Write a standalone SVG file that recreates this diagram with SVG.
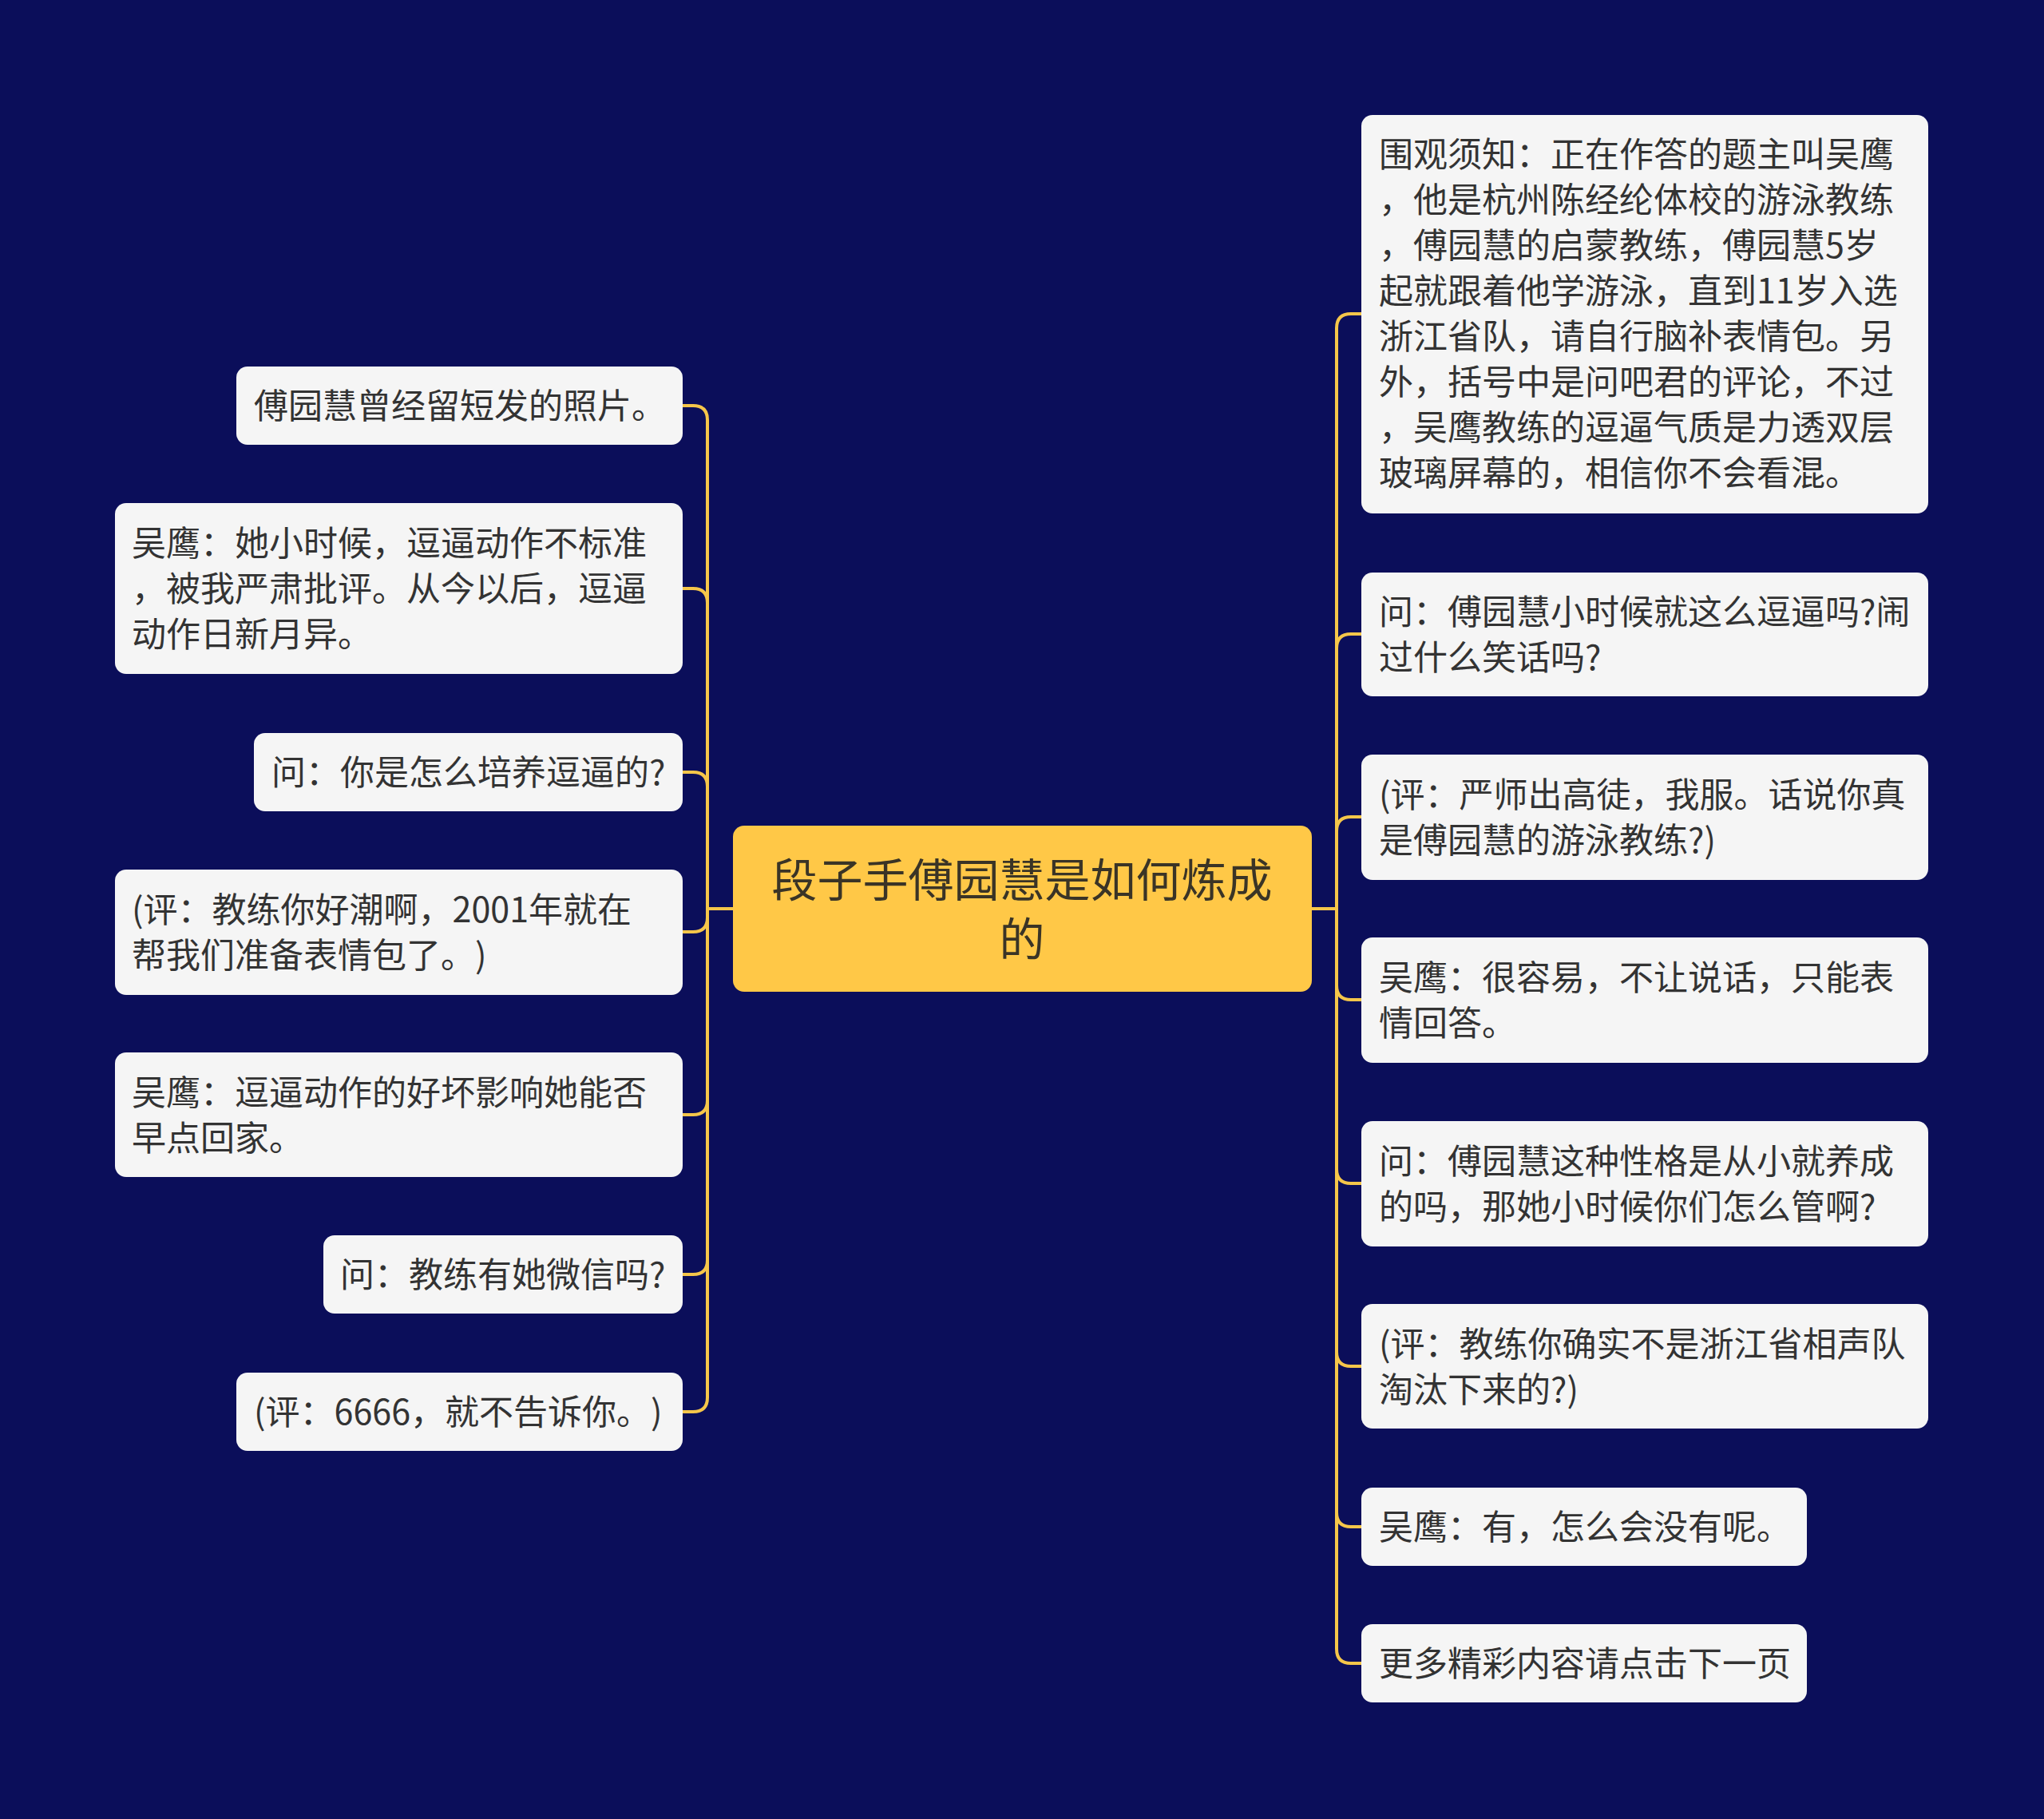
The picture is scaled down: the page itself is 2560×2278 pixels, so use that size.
<svg xmlns="http://www.w3.org/2000/svg" width="2560" height="2278" viewBox="0 0 2560 2278">
<style>
.bg{fill:#0b0e5a}
.node{fill:#f5f5f5}
.root{fill:#ffc847}
.t{font-family:"Noto Sans CJK SC","Noto Sans",sans-serif;font-size:43px;fill:#333333;dominant-baseline:central;text-spacing-trim:space-all}
.rt{font-family:"Noto Sans CJK SC","Noto Sans",sans-serif;font-size:57px;fill:#3a3426;dominant-baseline:central;text-anchor:middle}
.c{fill:none;stroke:#f5c64a;stroke-width:4;stroke-linecap:round;stroke-linejoin:round}
</style>
<rect class="bg" x="0" y="0" width="2560" height="2278"/>
<g id="connectors">
<path class="c" d="M918 1138 H886"/>
<path class="c" d="M1643 1138 H1674"/>
<path class="c" d="M886 1138 V526 Q886 508 868 508 H855"/>
<path class="c" d="M886 1138 V755 Q886 737 868 737 H855"/>
<path class="c" d="M886 1138 V985 Q886 967 868 967 H855"/>
<path class="c" d="M886 1138 V1149 Q886 1167 868 1167 H855"/>
<path class="c" d="M886 1138 V1378 Q886 1396 868 1396 H855"/>
<path class="c" d="M886 1138 V1578 Q886 1596 868 1596 H855"/>
<path class="c" d="M886 1138 V1750 Q886 1768 868 1768 H855"/>
<path class="c" d="M1674 1138 V411 Q1674 393 1692 393 H1705"/>
<path class="c" d="M1674 1138 V812 Q1674 794 1692 794 H1705"/>
<path class="c" d="M1674 1138 V1041 Q1674 1023 1692 1023 H1705"/>
<path class="c" d="M1674 1138 V1234 Q1674 1252 1692 1252 H1705"/>
<path class="c" d="M1674 1138 V1464 Q1674 1482 1692 1482 H1705"/>
<path class="c" d="M1674 1138 V1693 Q1674 1711 1692 1711 H1705"/>
<path class="c" d="M1674 1138 V1894 Q1674 1912 1692 1912 H1705"/>
<path class="c" d="M1674 1138 V2065 Q1674 2083 1692 2083 H1705"/>
</g>
<g id="root">
<rect class="root" x="918" y="1034" width="725" height="208" rx="14"/>
<text class="rt" x="1280" y="1098">段子手傅园慧是如何炼成</text>
<text class="rt" x="1280" y="1172">的</text>
</g>
<g id="L1">
<rect class="node" x="296" y="459" width="559" height="98" rx="14"/>
<text class="t" x="318" y="505">傅园慧曾经留短发的照片。</text>
</g>
<g id="L2">
<rect class="node" x="144" y="630" width="711" height="214" rx="14"/>
<text class="t" x="165" y="677">吴鹰：她小时候，逗逼动作不标准</text>
<text class="t" x="165" y="734">，被我严肃批评。从今以后，逗逼</text>
<text class="t" x="165" y="791">动作日新月异。</text>
</g>
<g id="L3">
<rect class="node" x="318" y="918" width="537" height="98" rx="14"/>
<text class="t" x="340" y="964">问：你是怎么培养逗逼的?</text>
</g>
<g id="L4">
<rect class="node" x="144" y="1089" width="711" height="157" rx="14"/>
<text class="t" x="165" y="1136">(评：教练你好潮啊，2001年就在</text>
<text class="t" x="165" y="1193">帮我们准备表情包了。)</text>
</g>
<g id="L5">
<rect class="node" x="144" y="1318" width="711" height="156" rx="14"/>
<text class="t" x="165" y="1365">吴鹰：逗逼动作的好坏影响她能否</text>
<text class="t" x="165" y="1422">早点回家。</text>
</g>
<g id="L6">
<rect class="node" x="405" y="1547" width="450" height="98" rx="14"/>
<text class="t" x="426" y="1593">问：教练有她微信吗?</text>
</g>
<g id="L7">
<rect class="node" x="296" y="1719" width="559" height="98" rx="14"/>
<text class="t" x="318" y="1765">(评：6666，就不告诉你。)</text>
</g>
<g id="R1">
<rect class="node" x="1705" y="144" width="710" height="499" rx="14"/>
<text class="t" x="1727" y="190">围观须知：正在作答的题主叫吴鹰</text>
<text class="t" x="1727" y="247">，他是杭州陈经纶体校的游泳教练</text>
<text class="t" x="1727" y="304">，傅园慧的启蒙教练，傅园慧5岁</text>
<text class="t" x="1727" y="361">起就跟着他学游泳，直到11岁入选</text>
<text class="t" x="1727" y="418">浙江省队，请自行脑补表情包。另</text>
<text class="t" x="1727" y="475">外，括号中是问吧君的评论，不过</text>
<text class="t" x="1727" y="532">，吴鹰教练的逗逼气质是力透双层</text>
<text class="t" x="1727" y="589">玻璃屏幕的，相信你不会看混。</text>
</g>
<g id="R2">
<rect class="node" x="1705" y="717" width="710" height="155" rx="14"/>
<text class="t" x="1727" y="763">问：傅园慧小时候就这么逗逼吗?闹</text>
<text class="t" x="1727" y="820">过什么笑话吗?</text>
</g>
<g id="R3">
<rect class="node" x="1705" y="945" width="710" height="157" rx="14"/>
<text class="t" x="1727" y="992">(评：严师出高徒，我服。话说你真</text>
<text class="t" x="1727" y="1049">是傅园慧的游泳教练?)</text>
</g>
<g id="R4">
<rect class="node" x="1705" y="1174" width="710" height="157" rx="14"/>
<text class="t" x="1727" y="1221">吴鹰：很容易，不让说话，只能表</text>
<text class="t" x="1727" y="1278">情回答。</text>
</g>
<g id="R5">
<rect class="node" x="1705" y="1404" width="710" height="157" rx="14"/>
<text class="t" x="1727" y="1451">问：傅园慧这种性格是从小就养成</text>
<text class="t" x="1727" y="1508">的吗，那她小时候你们怎么管啊?</text>
</g>
<g id="R6">
<rect class="node" x="1705" y="1633" width="710" height="156" rx="14"/>
<text class="t" x="1727" y="1680">(评：教练你确实不是浙江省相声队</text>
<text class="t" x="1727" y="1737">淘汰下来的?)</text>
</g>
<g id="R7">
<rect class="node" x="1705" y="1863" width="558" height="98" rx="14"/>
<text class="t" x="1727" y="1909">吴鹰：有，怎么会没有呢。</text>
</g>
<g id="R8">
<rect class="node" x="1705" y="2034" width="558" height="98" rx="14"/>
<text class="t" x="1727" y="2080">更多精彩内容请点击下一页</text>
</g>
</svg>
